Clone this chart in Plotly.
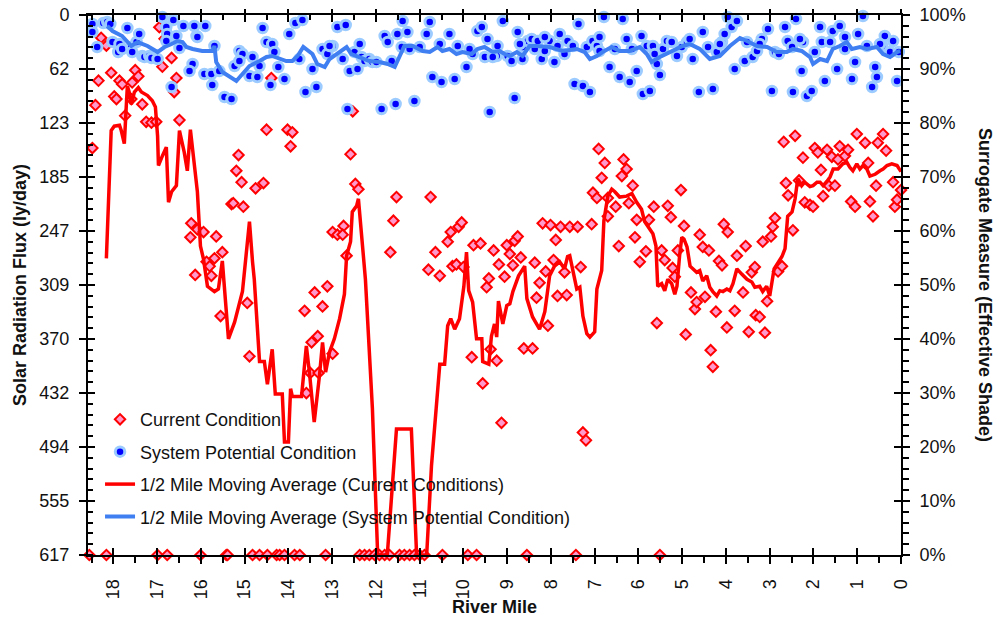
import plotly.graph_objects as go

FONT = "Liberation Sans, Arial, sans-serif"

# ---------------- data ----------------
# Current Condition (ly/day) by river mile
cur_mile = [
    18.28, 18.16, 16.95, 16.83, 16.67, 16.88, 18.05, 18.34, 17.86, 17.80,
    17.50, 17.43, 17.57, 16.56, 16.61, 17.98, 17.93, 18.41, 17.34, 17.59,
    17.73, 17.25, 17.13, 17.02, 16.49, 14.39, 14.50, 14.02, 13.91, 13.95,
    12.53, 18.48, 15.14, 15.19, 15.07, 14.75, 14.57, 15.30, 15.26, 15.03,
    16.22, 16.08, 15.94, 16.24, 15.65, 15.51, 15.69, 15.87, 15.80, 16.13,
    15.76, 13.40, 13.11, 14.94, 15.55, 13.63, 13.22, 12.58, 12.47, 12.40,
    12.99, 12.88, 12.74, 12.76, 12.67, 13.47, 13.33, 13.59, 13.50, 13.31,
    12.99, 14.89, 11.53, 11.60, 11.67, 10.75, 10.80, 10.54, 10.64, 10.36,
    10.29, 10.11, 10.04, 10.25, 10.16, 10.00, 9.77, 9.61, 9.47, 9.42,
    9.31, 9.19, 9.06, 9.01, 9.81, 9.56, 9.38, 9.24, 9.13, 8.94,
    8.87, 8.83, 8.76, 8.69, 8.37, 8.26, 8.33, 8.19, 8.01, 7.89,
    7.78, 7.57, 7.39, 7.94, 8.12, 7.69, 7.85, 7.64, 8.07, 8.62,
    8.42, 7.27, 7.20, 7.32, 7.07, 7.04, 6.95, 6.91, 6.77, 6.84,
    6.70, 6.70, 6.52, 6.45, 6.34, 6.27, 6.38, 6.13, 6.22, 6.08,
    6.04, 5.97, 5.83, 5.76, 5.65, 5.58, 5.47, 5.40, 5.33, 5.26,
    5.22, 5.17, 5.10, 5.03, 4.96, 4.92, 4.80, 4.71, 4.67, 4.60,
    4.53, 4.48, 4.39, 4.35, 4.30, 4.23, 4.16, 4.09, 4.05, 3.96,
    3.98, 3.80, 3.75, 3.61, 3.55, 3.48, 3.41, 3.34, 3.32, 3.23,
    3.16, 3.11, 3.06, 2.97, 2.93, 2.88, 2.81, 2.72, 2.68, 2.63,
    2.58, 2.47, 2.42, 2.33, 2.24, 2.20, 2.08, 2.01, 1.97, 1.90,
    1.83, 1.78, 1.69, 1.65, 1.58, 1.51, 1.44, 1.40, 1.28, 1.21,
    1.14, 1.05, 1.01, 0.82, 0.75, 0.71, 0.64, 0.57, 0.53, 0.41,
    0.34, 0.18, 0.14, 0.09, 0.00,
    18.55, 18.16, 16.99, 16.77, 16.01, 15.42, 15.39, 14.82, 14.66, 14.48,
    14.27, 14.20, 14.09, 13.86, 13.74, 13.15, 12.37, 12.26, 12.15, 12.03,
    11.92, 11.80, 11.69, 11.46, 11.35, 11.23, 11.12, 11.00, 10.89, 10.48,
    9.90, 9.70, 8.55, 7.43, 5.51,
]
cur_val = [
    26, 35, 14, 27, 49, 59, 66, 75, 75, 79,
    63, 70, 77, 72, 88, 93, 96, 103, 102, 96,
    115, 122, 123, 122, 120, 72, 131, 131, 134, 150,
    110, 152, 160, 178, 191, 198, 192, 216, 215, 219,
    238, 245, 248, 254, 253, 271, 278, 282, 287, 297,
    298, 317, 310, 329, 344, 338, 333, 159, 193, 199,
    248, 251, 241, 251, 275, 374, 367, 432, 409, 409,
    387, 390, 208, 235, 271, 208, 291, 298, 271, 259,
    248, 242, 237, 287, 285, 288, 263, 261, 311, 301,
    269, 285, 299, 263, 391, 421, 382, 395, 466, 273,
    286, 258, 253, 277, 283, 306, 323, 238, 240, 257,
    242, 242, 242, 280, 293, 294, 321, 320, 355, 381,
    381, 477, 486, 288, 239, 203, 209, 153, 169, 186,
    209, 230, 219, 264, 165, 176, 184, 195, 215, 254,
    234, 282, 270, 234, 219, 352, 269, 280, 218, 231,
    289, 299, 269, 200, 241, 365, 317, 336, 328, 251,
    265, 322, 269, 383, 402, 339, 281, 286, 239, 248,
    357, 338, 275, 317, 264, 362, 294, 288, 343, 345,
    259, 363, 327, 253, 242, 232, 293, 287, 145, 192,
    206, 246, 138, 189, 163, 214, 217, 219, 152, 157,
    177, 207, 154, 195, 162, 195, 165, 150, 161, 154,
    213, 219, 136, 146, 169, 213, 230, 195, 146, 136,
    155, 191, 219, 211, 200,
    617, 617, 617, 617, 617, 617, 617, 617, 617, 617,
    617, 617, 617, 617, 617, 617, 617, 617, 617, 617,
    617, 617, 617, 617, 617, 617, 617, 617, 617, 617,
    617, 617, 617, 617, 617,
]

# System Potential Condition (ly/day) by river mile
sys_mile = [
    18.59, 18.48, 18.48, 18.37, 18.23, 18.14, 18.07, 18.02, 17.86, 17.89,
    17.80, 17.68, 17.59, 17.57, 17.47, 17.41, 17.34, 17.29, 17.18, 17.13,
    16.99, 16.88, 16.79, 16.77, 16.79, 16.63, 16.67, 16.56, 16.49, 16.40,
    16.19, 16.26, 16.15, 16.10, 16.08, 15.90, 15.92, 15.76, 15.74, 15.69,
    15.58, 15.46, 15.30, 15.23, 15.12, 15.05, 14.89, 14.82, 14.71, 14.66,
    14.59, 14.50, 14.41, 14.37, 14.32, 14.23, 14.09, 13.98, 13.84, 13.68,
    13.61, 13.75, 13.45, 13.36, 13.22, 13.11, 12.99, 12.88, 12.76, 12.69,
    12.65, 12.60, 12.49, 12.42, 12.33, 12.26, 12.15, 12.08, 11.99, 11.87,
    11.80, 11.73, 11.64, 11.55, 11.51, 11.41, 11.39, 11.28, 11.12, 11.00,
    10.84, 10.77, 10.71, 10.50, 10.32, 10.20, 10.13, 9.93, 9.79, 9.68,
    9.58, 9.51, 9.45, 9.40, 9.24, 9.33, 9.22, 9.10, 8.99, 8.90,
    8.83, 8.76, 8.65, 8.65, 8.53, 8.44, 8.37, 8.30, 8.21, 8.14,
    8.03, 7.92, 7.85, 7.80, 7.69, 7.62, 7.50, 7.46, 7.37, 7.27,
    7.18, 7.11, 7.05, 6.95, 6.89, 6.79, 6.66, 6.54, 6.43, 6.36,
    6.27, 6.20, 6.15, 6.04, 5.93, 5.90, 5.81, 5.74, 5.67, 5.58,
    5.51, 5.44, 5.35, 5.24, 5.12, 5.01, 4.89, 4.76, 4.62, 4.53,
    4.41, 4.30, 4.21, 4.09, 4.03, 3.96, 3.87, 3.75, 3.80, 3.57,
    3.52, 3.39, 3.29, 3.18, 3.04, 2.95, 2.88, 2.79, 2.65, 2.59,
    2.49, 2.47, 2.40, 2.27, 2.24, 2.15, 2.04, 1.97, 1.85, 1.81,
    1.74, 1.62, 1.56, 1.46, 1.40, 1.28, 1.12, 1.05, 0.98, 0.87,
    0.78, 0.66, 0.59, 0.55, 0.43, 0.37, 0.25, 0.18, 0.09, 0.05,
    10.54, 9.86, 8.71, 8.14, 6.89, 5.63, 4.83, 4.14, 3.23, 2.31,
    1.28, 0.48, 15.12, 13.06, 12.37, 11.23,
]
sys_val = [
    18.3, 10.3, 19.4, 36.6, 9.1, 8.0, 10.3, 30.9, 33.1, 42.3,
    38.8, 14.9, 36.6, 42.3, 30.9, 21.7, 46.8, 48.0, 46.8, 49.1,
    50.3, 2.3, 13.7, 21.7, 29.7, 5.7, 82.3, 24.0, 37.7, 12.6,
    56.0, 64.0, 12.6, 24.0, 25.1, 12.6, 67.4, 67.4, 80.0, 35.4,
    64.0, 93.7, 96.0, 58.3, 41.1, 44.6, 69.7, 48.0, 70.8, 58.3,
    14.9, 30.9, 80.0, 33.1, 42.3, 59.4, 73.1, 21.7, 9.1, 5.7,
    88.0, 50.3, 61.7, 82.3, 38.8, 44.6, 35.4, 13.7, 50.3, 11.4,
    107.4, 64.0, 42.3, 61.7, 48.0, 52.6, 50.3, 53.7, 53.7, 107.4,
    24.0, 30.9, 52.6, 101.7, 21.7, 36.6, 6.9, 19.4, 98.3, 36.6,
    21.7, 8.0, 70.8, 76.6, 21.7, 73.1, 35.4, 59.4, 44.6, 18.3,
    13.7, 48.0, 27.4, 110.8, 46.8, 48.0, 35.4, 6.9, 46.8, 52.6,
    94.8, 19.4, 50.3, 36.6, 29.7, 27.4, 38.8, 29.7, 50.3, 41.1,
    29.7, 53.7, 35.4, 21.7, 44.6, 29.7, 35.4, 78.8, 10.3, 81.1,
    36.6, 88.0, 29.7, 35.4, 25.1, 2.3, 59.4, 38.8, 70.8, 4.6,
    27.4, 76.6, 38.8, 64.0, 24.0, 90.3, 35.4, 86.8, 35.4, 56.0,
    68.6, 38.8, 29.7, 30.9, 46.8, 36.6, 30.9, 50.3, 88.0, 19.4,
    36.6, 84.6, 42.3, 30.9, 21.7, 2.3, 13.7, 6.9, 61.7, 52.6,
    30.9, 48.0, 41.1, 27.4, 16.0, 86.8, 42.3, 44.6, 13.7, 29.7,
    36.6, 88.0, 4.6, 64.0, 30.9, 92.5, 86.8, 42.3, 13.7, 30.9,
    75.4, 30.9, 18.3, 61.7, 12.6, 25.1, 73.1, 53.7, 21.7, 1.1,
    35.4, 82.3, 59.4, 70.8, 35.4, 24.0, 42.3, 29.7, 75.4, 42.3,
    33.1, 38.8, 33.1, 25.1, 41.1, 44.6, 27.4, 33.1, 33.1, 27.4,
    38.8, 33.1, 52.6, 35.4, 33.1, 38.8,
]

# 1/2 mile moving average, current conditions
cur_ma_mile = [
    18.16, 18.05, 17.98, 17.86, 17.82, 17.75, 17.70, 17.68, 17.64, 17.59,
    17.52, 17.43, 17.36, 17.22, 17.11, 17.04, 16.99, 16.97, 16.88, 16.79,
    16.74, 16.67, 16.56, 16.49, 16.38, 16.31, 16.24, 16.15, 16.08, 16.01,
    15.94, 15.85, 15.76, 15.69, 15.60, 15.51, 15.37, 15.23, 15.05, 14.89,
    14.82, 14.78, 14.66, 14.55, 14.48, 14.37, 14.30, 14.14, 14.09, 14.00,
    13.95, 13.91, 13.70, 13.59, 13.52, 13.41, 13.29, 13.22, 13.15, 13.06,
    12.95, 12.83, 12.72, 12.67, 12.58, 12.54, 12.44, 12.40, 12.24, 12.08,
    11.96, 11.74, 11.53, 11.19, 11.07, 10.84, 10.73, 10.54, 10.43, 10.36,
    10.29, 10.20, 10.09, 9.99, 9.93, 9.88, 9.79, 9.70, 9.58, 9.56,
    9.42, 9.36, 9.29, 9.24, 9.20, 9.10, 9.01, 8.94, 8.87, 8.74,
    8.60, 8.55, 8.42, 8.26, 8.14, 8.03, 7.92, 7.80, 7.69, 7.62,
    7.57, 7.50, 7.41, 7.34, 7.27, 7.18, 7.11, 7.00, 6.95, 6.84,
    6.79, 6.70, 6.61, 6.54, 6.43, 6.27, 6.15, 6.04, 5.93, 5.86,
    5.74, 5.67, 5.60, 5.56, 5.47, 5.40, 5.33, 5.24, 5.17, 5.12,
    5.06, 5.01, 4.96, 4.89, 4.82, 4.75, 4.67, 4.60, 4.53, 4.44,
    4.37, 4.30, 4.21, 4.14, 4.07, 3.98, 3.91, 3.84, 3.75, 3.64,
    3.52, 3.41, 3.34, 3.23, 3.16, 3.07, 3.00, 2.90, 2.81, 2.72,
    2.65, 2.59, 2.49, 2.42, 2.36, 2.27, 2.20, 2.08, 2.01, 1.92,
    1.85, 1.78, 1.69, 1.62, 1.55, 1.44, 1.33, 1.24, 1.17, 1.10,
    1.01, 0.94, 0.87, 0.78, 0.71, 0.59, 0.48, 0.41, 0.32, 0.21,
    0.09, 0.00,
]
cur_ma_val = [
    278, 132, 127, 126, 132, 147, 99, 81, 88, 102,
    88, 83, 88, 92, 98, 105, 138, 172, 161, 151,
    214, 202, 195, 132, 157, 178, 131, 172, 202, 264,
    279, 310, 313, 316, 313, 281, 370, 351, 316, 236,
    282, 302, 396, 396, 422, 382, 433, 433, 488, 488,
    427, 436, 436, 378, 408, 465, 412, 374, 408, 385,
    370, 347, 319, 275, 259, 225, 218, 210, 302, 450,
    617, 617, 473, 473, 617, 617, 515, 399, 399, 355,
    347, 359, 347, 310, 271, 315, 328, 370, 370, 396,
    399, 367, 353, 368, 327, 353, 332, 330, 316, 298,
    287, 324, 345, 359, 339, 298, 287, 282, 290, 276,
    275, 290, 313, 311, 344, 364, 368, 362, 313, 292,
    235, 207, 199, 202, 208, 207, 204, 214, 222, 236,
    244, 250, 264, 310, 307, 315, 302, 307, 319, 310,
    275, 254, 256, 265, 287, 290, 294, 292, 304, 298,
    311, 316, 321, 315, 316, 313, 315, 307, 290, 296,
    302, 305, 311, 310, 316, 310, 321, 290, 282, 276,
    267, 230, 225, 210, 187, 195, 191, 196, 195, 191,
    191, 195, 190, 185, 176, 176, 170, 168, 174, 178,
    170, 176, 172, 176, 184, 182, 178, 176, 172, 170,
    172, 179,
]

# 1/2 mile moving average, system potential condition
sys_ma_mile = [
    18.14, 18.02, 17.80, 17.59, 17.45, 17.22, 16.99, 16.83, 16.67, 16.54,
    16.42, 16.33, 16.19, 15.97, 15.74, 15.69, 15.65, 15.51, 15.19, 15.05,
    14.89, 14.66, 14.50, 14.37, 14.21, 14.05, 13.91, 13.79, 13.66, 13.52,
    13.45, 13.34, 13.17, 13.06, 12.90, 12.67, 12.56, 12.37, 12.15, 11.92,
    11.73, 11.57, 11.46, 11.35, 11.16, 10.93, 10.77, 10.59, 10.48, 10.32,
    10.16, 10.02, 9.81, 9.68, 9.52, 9.33, 9.17, 9.06, 8.94, 8.78,
    8.65, 8.49, 8.33, 8.03, 7.73, 7.41, 7.23, 7.11, 6.95, 6.82,
    6.61, 6.43, 6.20, 5.97, 5.81, 5.70, 5.51, 5.29, 5.12, 4.99,
    4.83, 4.60, 4.37, 4.14, 3.91, 3.68, 3.52, 3.29, 3.06, 2.84,
    2.61, 2.47, 2.27, 2.08, 2.01, 1.85, 1.69, 1.56, 1.40, 1.24,
    1.12, 0.94, 0.78, 0.55, 0.41, 0.25, 0.09, 0.02,
]
sys_ma_val = [
    12.6, 18.3, 24.0, 35.4, 30.9, 35.4, 42.3, 36.6, 33.1, 29.7,
    30.9, 36.6, 38.8, 41.1, 41.1, 35.4, 53.7, 65.1, 75.4, 67.4,
    58.3, 52.6, 48.0, 46.8, 50.3, 52.6, 52.6, 46.8, 36.6, 41.1,
    44.6, 56.0, 59.4, 50.3, 44.6, 36.6, 44.6, 48.0, 52.6, 53.7,
    56.0, 59.4, 48.0, 35.4, 35.4, 41.1, 42.3, 36.6, 41.1, 38.8,
    44.6, 42.3, 44.6, 38.8, 36.6, 42.3, 41.1, 44.6, 46.8, 42.3,
    46.8, 35.4, 35.4, 36.6, 41.1, 38.8, 42.3, 50.3, 46.8, 42.3,
    36.6, 41.1, 41.1, 36.6, 44.6, 53.7, 48.0, 42.3, 38.8, 35.4,
    33.1, 38.8, 50.3, 46.8, 35.4, 26.3, 29.7, 35.4, 36.6, 42.3,
    42.3, 38.8, 41.1, 48.0, 56.0, 50.3, 52.6, 38.8, 35.4, 30.9,
    38.8, 36.6, 38.8, 36.6, 44.6, 48.0, 42.3, 41.1,
]

# axis scales / tick labels
x_range = [18.58, 0]
y_range = [617, 0]
y_tick_vals = [0, 61.7, 123.4, 185.1, 246.8, 308.5, 370.2, 431.9, 493.6, 555.3, 617]
y_tick_text = ["0", "62", "123", "185", "247", "309", "370", "432", "494", "555", "617"]
pct_range = [0, 100]

# ---------------- figure ----------------
fig = go.Figure()
fig.add_trace(go.Scatter(
    x=cur_mile, y=cur_val, mode="markers", name="Current Condition",
    legendgroup="g1", cliponaxis=False,
    marker=dict(symbol="diamond", size=8, color="#FF99CC",
                line=dict(color="#FF0000", width=2))))
fig.add_trace(go.Scatter(
    x=sys_mile, y=sys_val, mode="markers", name="System Potential Condition",
    legendgroup="g2", cliponaxis=False,
    marker=dict(symbol="circle", size=9.5, color="#0000FF",
                line=dict(color="#9CCBFF", width=3))))
fig.add_trace(go.Scatter(
    x=cur_ma_mile, y=cur_ma_val, mode="lines",
    name="1/2 Mile Moving Average (Current Conditions)",
    legendgroup="g3", cliponaxis=False,
    line=dict(color="#FF0000", width=3.5)))
fig.add_trace(go.Scatter(
    x=sys_ma_mile, y=sys_ma_val, mode="lines",
    name="1/2 Mile Moving Average (System Potential Condition)",
    legendgroup="g4",
    line=dict(color="#3F7FF2", width=4)))

# empty helper traces so that the extra tick axes are drawn
for xa, ya in [("x2", "y"), ("x3", "y"), ("x4", "y"), ("x", "y2"), ("x", "y3"), ("x", "y4")]:
    fig.add_trace(go.Scatter(x=[], y=[], xaxis=xa, yaxis=ya, showlegend=False,
                             hoverinfo="skip"))

TK = dict(tickcolor="black", tickwidth=2, showgrid=False, zeroline=False, automargin=False)
TICKFONT = dict(family=FONT, size=18, color="#111111")

fig.update_layout(
    width=1003, height=621,
    margin=dict(l=88, r=102, t=15, b=66, pad=0, autoexpand=False),
    paper_bgcolor="white", plot_bgcolor="white",
    font=dict(family=FONT, size=18, color="#111111"),
    showlegend=True,
    legend=dict(x=0.0148, xanchor="left", y=0.285, yanchor="top",
                bgcolor="rgba(0,0,0,0)", borderwidth=0,
                font=dict(family=FONT, size=18, color="#111111"),
                tracegroupgap=6, itemsizing="trace"),
    xaxis=dict(range=x_range, tickmode="linear", tick0=0, dtick=1,
               ticks="outside", ticklen=7, tickangle=-90, tickfont=TICKFONT,
               ticklabelstandoff=8,
               showline=True, linewidth=2, linecolor="black", anchor="y",
               minor=dict(ticks="outside", ticklen=6, tickwidth=2, tick0=0, dtick=0.5,
                          tickcolor="black", showgrid=False),
               **TK),
    xaxis2=dict(range=x_range, overlaying="x", anchor="y", side="bottom",
                tickmode="linear", tick0=0, dtick=1, ticks="inside", ticklen=7,
                showticklabels=False, showline=False, **TK),
    xaxis3=dict(range=x_range, overlaying="x", anchor="y", side="top",
                tickmode="linear", tick0=0, dtick=1, ticks="inside", ticklen=7,
                showticklabels=False, showline=True, linewidth=2, linecolor="black",
                minor=dict(ticks="inside", ticklen=5, tickwidth=2, tick0=0, dtick=0.5,
                           tickcolor="black", showgrid=False),
                **TK),
    xaxis4=dict(range=x_range, overlaying="x", anchor="y", side="top",
                tickmode="linear", tick0=0, dtick=1, ticks="outside", ticklen=5,
                showticklabels=False, showline=False, **TK),
    yaxis=dict(range=y_range, tickmode="array", tickvals=y_tick_vals,
               ticktext=y_tick_text, ticks="outside", ticklen=7, tickfont=TICKFONT,
               ticklabelstandoff=6,
               showline=True, linewidth=2, linecolor="black", anchor="x",
               minor=dict(ticks="inside", ticklen=5, tickwidth=2, tickmode="linear",
                          tick0=0, dtick=12.34, tickcolor="black", showgrid=False),
               **TK),
    yaxis3=dict(range=y_range, overlaying="y", anchor="x", side="left",
                tickmode="array", tickvals=y_tick_vals, ticks="inside", ticklen=7,
                showticklabels=False, showline=False, **TK),
    yaxis2=dict(range=pct_range, overlaying="y", anchor="x", side="right",
                tickmode="linear", tick0=0, dtick=10, ticksuffix="%",
                ticks="outside", ticklen=7, tickfont=TICKFONT, ticklabelstandoff=6,
                showline=True, linewidth=2, linecolor="black",
                minor=dict(ticks="outside", ticklen=6, tickwidth=2, tick0=0, dtick=2,
                           tickcolor="black", showgrid=False),
                **TK),
    yaxis4=dict(range=pct_range, overlaying="y", anchor="x", side="right",
                tickmode="linear", tick0=0, dtick=10, ticks="inside", ticklen=7,
                showticklabels=False, showline=False, **TK),
    annotations=[
        dict(text="<b>Solar Radiation Flux (ly/day)</b>", xref="paper", yref="paper",
             x=-0.0836, y=0.5, xanchor="center", yanchor="middle", textangle=-90,
             showarrow=False, font=dict(family=FONT, size=18, color="#111111")),
        dict(text="<b>Surrogate Measure (Effective Shade)</b>", xref="paper", yref="paper",
             x=1.1033, y=0.5, xanchor="center", yanchor="middle", textangle=90,
             showarrow=False, font=dict(family=FONT, size=18, color="#111111")),
        dict(text="<b>River Mile</b>", xref="paper", yref="paper",
             x=0.5, y=-0.0963, xanchor="center", yanchor="middle",
             showarrow=False, font=dict(family=FONT, size=18, color="#111111")),
    ],
)

fig.write_html("out.html", config={"displayModeBar": False})
